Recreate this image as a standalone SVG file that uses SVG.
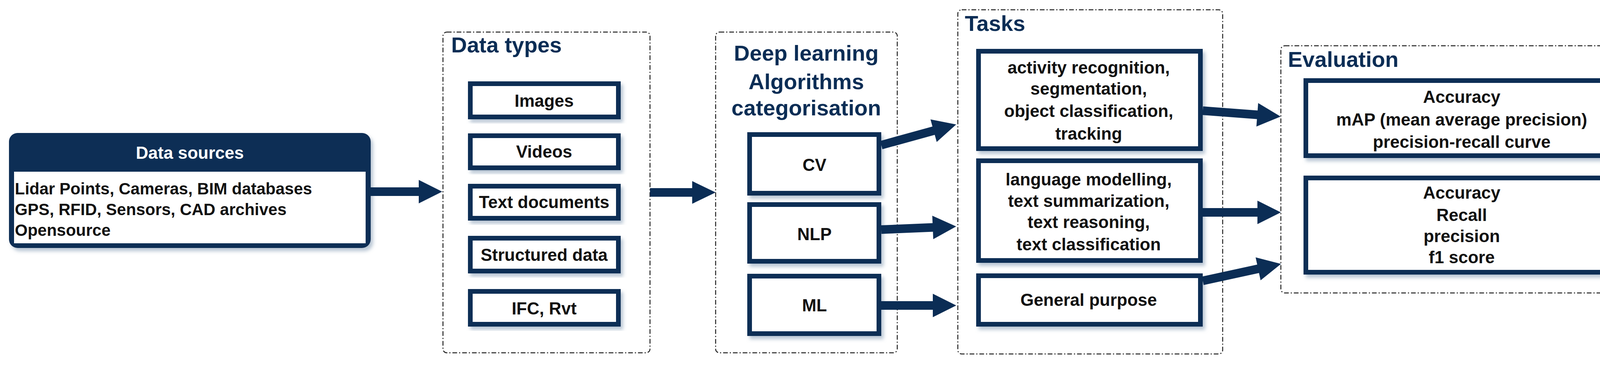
<svg xmlns="http://www.w3.org/2000/svg" width="4222" height="946" viewBox="0 0 4222 946">
<style>
text{font-family:"Liberation Sans",Arial,sans-serif;font-weight:bold}
.grp{fill:none;stroke:#222;stroke-width:2.5;stroke-dasharray:12 5 3 5}
.title{fill:#0b2d55;font-size:56px}
.box{fill:#fff;stroke:#0b2d55;stroke-width:12;filter:url(#sh)}
.t{fill:#111;font-size:44px;text-anchor:middle}
.arr{fill:#0b2d55}
</style>
<defs>
<filter id="sh" x="-10%" y="-10%" width="125%" height="130%">
<feDropShadow dx="6" dy="8" stdDeviation="5" flood-color="#8aa0b8" flood-opacity="0.6"/>
</filter>
</defs>
<rect width="4222" height="946" fill="#fff"/>

<g id="data-sources">
<rect x="23" y="340" width="926" height="294" rx="22" fill="#0b2d55" filter="url(#sh)"/>
<rect x="36" y="439" width="900" height="183" fill="#fff"/>
<text x="486" y="406" font-size="44" fill="#fff" text-anchor="middle">Data sources</text>
<text x="38" y="497" font-size="42" fill="#111">Lidar Points, Cameras, BIM databases</text>
<text x="38" y="550" font-size="42" fill="#111">GPS, RFID, Sensors, CAD archives</text>
<text x="38" y="603" font-size="42" fill="#111">Opensource</text>
</g>

<g id="data-types">
<rect class="grp" x="1134" y="82" width="530" height="820" rx="10"/>
<text class="title" x="1155" y="134">Data types</text>
<rect class="box" x="1204" y="214" width="379" height="85"/><text class="t" x="1393" y="273">Images</text>
<rect class="box" x="1204" y="347" width="379" height="82"/><text class="t" x="1393" y="403">Videos</text>
<rect class="box" x="1204" y="476" width="379" height="82"/><text class="t" x="1393" y="532">Text documents</text>
<rect class="box" x="1204" y="609" width="379" height="84"/><text class="t" x="1393" y="667">Structured data</text>
<rect class="box" x="1204" y="745" width="379" height="84"/><text class="t" x="1393" y="804">IFC, Rvt</text>
</g>

<g id="deep-learning">
<rect class="grp" x="1832" y="82" width="465" height="820" rx="10"/>
<text class="title" x="2064" y="155" text-anchor="middle">Deep learning</text>
<text class="title" x="2064" y="228" text-anchor="middle">Algorithms</text>
<text class="title" x="2064" y="295" text-anchor="middle">categorisation</text>
<rect class="box" x="1919" y="344" width="331" height="150"/><text class="t" x="2085" y="437">CV</text>
<rect class="box" x="1919" y="523" width="331" height="145"/><text class="t" x="2085" y="614">NLP</text>
<rect class="box" x="1919" y="706" width="331" height="147"/><text class="t" x="2085" y="796">ML</text>
</g>

<g id="tasks">
<rect class="grp" x="2452" y="25" width="678" height="880" rx="10"/>
<text class="title" x="2470" y="79">Tasks</text>
<rect class="box" x="2505" y="131" width="568" height="249"/>
<text class="t" x="2787" y="188">activity recognition,</text>
<text class="t" x="2787" y="242">segmentation,</text>
<text class="t" x="2787" y="299">object classification,</text>
<text class="t" x="2787" y="357">tracking</text>
<rect class="box" x="2505" y="411" width="568" height="255"/>
<text class="t" x="2787" y="474">language modelling,</text>
<text class="t" x="2787" y="529">text summarization,</text>
<text class="t" x="2787" y="583">text reasoning,</text>
<text class="t" x="2787" y="640">text classification</text>
<rect class="box" x="2505" y="705" width="568" height="124"/>
<text class="t" x="2787" y="782">General purpose</text>
</g>

<g id="evaluation">
<rect class="grp" x="3279" y="117" width="916" height="632" rx="10"/>
<text class="title" x="3297" y="171">Evaluation</text>
<rect class="box" x="3343" y="206" width="796" height="192"/>
<text class="t" x="3742" y="263">Accuracy</text>
<text class="t" x="3742" y="321">mAP (mean average precision)</text>
<text class="t" x="3742" y="378">precision-recall curve</text>
<rect class="box" x="3343" y="455" width="796" height="241"/>
<text class="t" x="3742" y="508">Accuracy</text>
<text class="t" x="3742" y="565">Recall</text>
<text class="t" x="3742" y="619">precision</text>
<text class="t" x="3742" y="673">f1 score</text>
</g>

<g id="connectors" class="arr">
<path transform="translate(949,490)" d="M0,-11 L123,-11 L123,-30 L183,0 L123,30 L123,11 L0,11 Z"/>
<path transform="translate(1664,492)" d="M0,-11 L108,-11 L108,-29 L168,0 L108,29 L108,11 L0,11 Z"/>
<path transform="translate(2256,371) rotate(-15.4)" d="M0,-11 L139,-11 L139,-30 L199,0 L139,30 L139,11 L0,11 Z"/>
<path transform="translate(2256,587) rotate(-2.4)" d="M0,-11 L132,-11 L132,-30 L192,0 L132,30 L132,11 L0,11 Z"/>
<path transform="translate(2256,781)" d="M0,-11 L132,-11 L132,-30 L192,0 L132,30 L132,11 L0,11 Z"/>
<path transform="translate(3079,283) rotate(4.3)" d="M0,-11 L140,-11 L140,-30 L200,0 L140,30 L140,11 L0,11 Z"/>
<path transform="translate(3079,543)" d="M0,-11 L140,-11 L140,-30 L200,0 L140,30 L140,11 L0,11 Z"/>
<path transform="translate(3079,718) rotate(-12.2)" d="M0,-11 L145,-11 L145,-30 L205,0 L145,30 L145,11 L0,11 Z"/>
</g>
</svg>
